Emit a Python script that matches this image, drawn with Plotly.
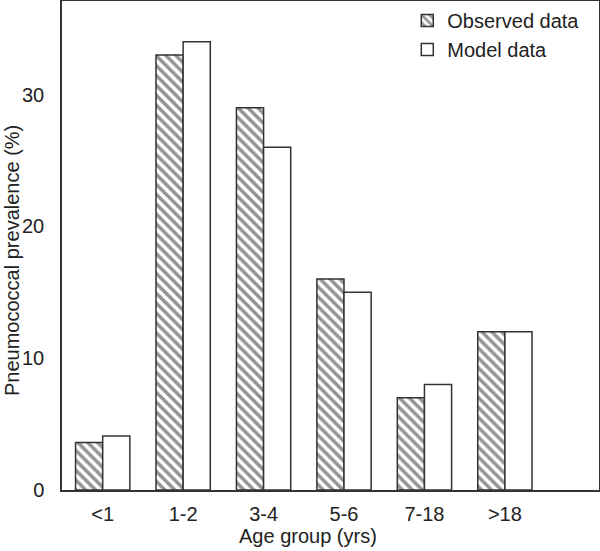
import plotly.graph_objects as go

categories = ["<1", "1-2", "3-4", "5-6", "7-18", ">18"]
observed = [3.6, 33, 29, 16, 7, 12]
model = [4.1, 34, 26, 15, 8, 12]
y_ticks = [0, 10, 20, 30]

FONT = "Liberation Sans, Arial, sans-serif"
LINE = "#333333"
TXT = "#222222"
FS = 20

fig = go.Figure()
fig.add_trace(go.Bar(
    x=categories, y=observed, name="Observed data",
    marker=dict(color="white", line=dict(color=LINE, width=1.5),
                pattern=dict(shape="\\", fgcolor="#2a2a2a", bgcolor="white",
                             size=7, solidity=0.5)),
))
fig.add_trace(go.Bar(
    x=categories, y=model, name="Model data",
    marker=dict(color="white", line=dict(color=LINE, width=1.5)),
))

fig.update_layout(
    width=600, height=551,
    margin=dict(l=62, r=1, t=1, b=61, autoexpand=False),
    paper_bgcolor="white", plot_bgcolor="white",
    barmode="group", bargap=0.325, bargroupgap=0,
    font=dict(family=FONT, size=FS, color=TXT),
    showlegend=True,
    legend=dict(x=0.643, y=1.0, xanchor="left", yanchor="top",
                bgcolor="rgba(0,0,0,0)", font=dict(size=FS),
                tracegroupgap=0),
    xaxis=dict(type="category", range=[-0.506, 6.17], automargin=False,
               showline=True, linecolor=LINE, linewidth=1.5, mirror=True,
               showgrid=False, zeroline=False, ticks="", ticklabelstandoff=5),
    yaxis=dict(range=[0, 37.1], tickvals=y_ticks, automargin=False,
               showline=True, linecolor=LINE, linewidth=1.5, mirror=True,
               showgrid=False, zeroline=False, ticks="", ticklabelstandoff=12),
    annotations=[
        dict(text="Age group (yrs)", xref="paper", yref="paper",
             x=(308 - 62) / 537, y=-(536 - 490) / 489, xanchor="center",
             yanchor="middle", showarrow=False, font=dict(size=FS, color=TXT)),
        dict(text="Pneumococcal prevalence (%)", xref="paper", yref="paper",
             x=-(62 - 12) / 537, y=(490 - 261) / 489, xanchor="center",
             yanchor="middle", textangle=-90, showarrow=False,
             font=dict(size=FS, color=TXT)),
    ],
)

fig.write_html("out.html", config={"displayModeBar": False},
               post_script="document.body.style.margin='0';document.body.style.overflow='hidden';")
